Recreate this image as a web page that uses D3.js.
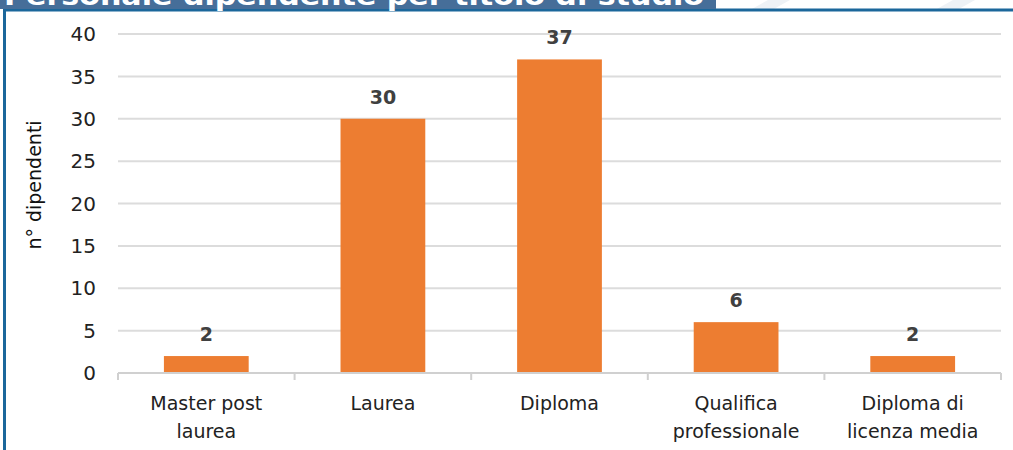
<!DOCTYPE html>
<html>
<head>
<meta charset="utf-8">
<script src="https://cdn.jsdelivr.net/npm/d3@7"></script>
<style>
  body { margin: 0; background: #fff; }
  svg { display: block; font-family: "DejaVu Sans", sans-serif; }
</style>
</head>
<body>
<div id="chart"></div>
<script>
// data
var categories = ["Master post|laurea", "Laurea", "Diploma", "Qualifica|professionale", "Diploma di|licenza media"];
var values = [2, 30, 37, 6, 2];
var yTicks = [0, 5, 10, 15, 20, 25, 30, 35, 40];
var titleText = "Personale dipendente per titolo di studio";
var yTitle = "n° dipendenti";

var W = 1013, H = 450;
var margin = {top: 34, right: 12, bottom: 77, left: 118};
var width = W - margin.left - margin.right,
    height = H - margin.top - margin.bottom;

var svg = d3.select("#chart").append("svg")
    .attr("width", W)
    .attr("height", H);

// page background with faint diagonal stripes at top right
svg.append("rect").attr("width", W).attr("height", H).attr("fill", "#ffffff");
[750, 935].forEach(function(s) {
  svg.append("path")
    .attr("d", "M" + s + ",10 L" + (s + 18) + ",0 L" + (s + 40) + ",0 L" + (s + 22) + ",10 Z")
    .attr("fill", "#eef2f6");
});

// chart box with blue border (left + top)
svg.append("rect")
  .attr("x", 4.5).attr("y", 10).attr("width", W).attr("height", H)
  .attr("fill", "#fff")
  .attr("stroke", "#1b679b").attr("stroke-width", 3);

// title bar, cut off at top
svg.append("rect")
  .attr("x", 0).attr("y", 0).attr("width", 716).attr("height", 9)
  .attr("fill", "#466e99");
svg.append("text")
  .attr("x", 4).attr("y", 5)
  .attr("fill", "#fff")
  .attr("font-weight", "bold")
  .attr("font-size", 26)
  .attr("textLength", 700)
  .attr("lengthAdjust", "spacingAndGlyphs")
  .text(titleText);

var g = svg.append("g")
  .attr("transform", "translate(" + margin.left + "," + margin.top + ")");

var x = d3.scaleBand()
  .domain(categories)
  .range([0, width])
  .paddingInner(0.52)
  .paddingOuter(0.26);
var y = d3.scaleLinear()
  .domain([0, 40])
  .range([height, 0]);

// gridlines
g.selectAll(".grid")
  .data(yTicks.slice(1))
  .enter().append("line")
  .attr("x1", 0).attr("x2", width)
  .attr("y1", function(d) { return y(d); })
  .attr("y2", function(d) { return y(d); })
  .attr("stroke", "#dcdcdc").attr("stroke-width", 2);

// y labels
g.selectAll(".ylab")
  .data(yTicks)
  .enter().append("text")
  .attr("x", -22)
  .attr("y", function(d) { return y(d); })
  .attr("dy", "0.36em")
  .attr("text-anchor", "end")
  .attr("font-size", 20)
  .attr("fill", "#222")
  .text(function(d) { return d; });

// bars
g.selectAll(".bar")
  .data(values)
  .enter().append("rect")
  .attr("x", function(d, i) { return x(categories[i]); })
  .attr("width", x.bandwidth())
  .attr("y", function(d) { return y(d); })
  .attr("height", function(d) { return height - y(d); })
  .attr("fill", "#ed7d31");

// value labels
g.selectAll(".val")
  .data(values)
  .enter().append("text")
  .attr("x", function(d, i) { return x(categories[i]) + x.bandwidth() / 2; })
  .attr("y", function(d) { return y(d) - 15; })
  .attr("text-anchor", "middle")
  .attr("font-size", 19)
  .attr("font-weight", "bold")
  .attr("fill", "#404040")
  .text(function(d) { return d; });

// x axis line and ticks at band edges
g.append("line")
  .attr("x1", 0).attr("x2", width)
  .attr("y1", height).attr("y2", height)
  .attr("stroke", "#d0d0d0").attr("stroke-width", 2);
g.selectAll(".xtick")
  .data(d3.range(categories.length + 1))
  .enter().append("line")
  .attr("x1", function(i) { return i * width / categories.length; })
  .attr("x2", function(i) { return i * width / categories.length; })
  .attr("y1", height).attr("y2", height + 7)
  .attr("stroke", "#d0d0d0").attr("stroke-width", 2);

// category labels
var cl = g.selectAll(".xlab")
  .data(categories)
  .enter().append("text")
  .attr("text-anchor", "middle")
  .attr("font-size", 19)
  .attr("fill", "#222")
  .attr("transform", function(d) { return "translate(" + (x(d) + x.bandwidth() / 2) + "," + (height + 37) + ")"; });
cl.selectAll("tspan")
  .data(function(d) { return d.split("|"); })
  .enter().append("tspan")
  .attr("x", 0)
  .attr("dy", function(d, i) { return i === 0 ? 0 : 28; })
  .text(function(d) { return d; });

// y title
svg.append("text")
  .attr("transform", "translate(41,185) rotate(-90)")
  .attr("text-anchor", "middle")
  .attr("font-size", 19)
  .attr("fill", "#111")
  .text(yTitle);
</script>
</body>
</html>
